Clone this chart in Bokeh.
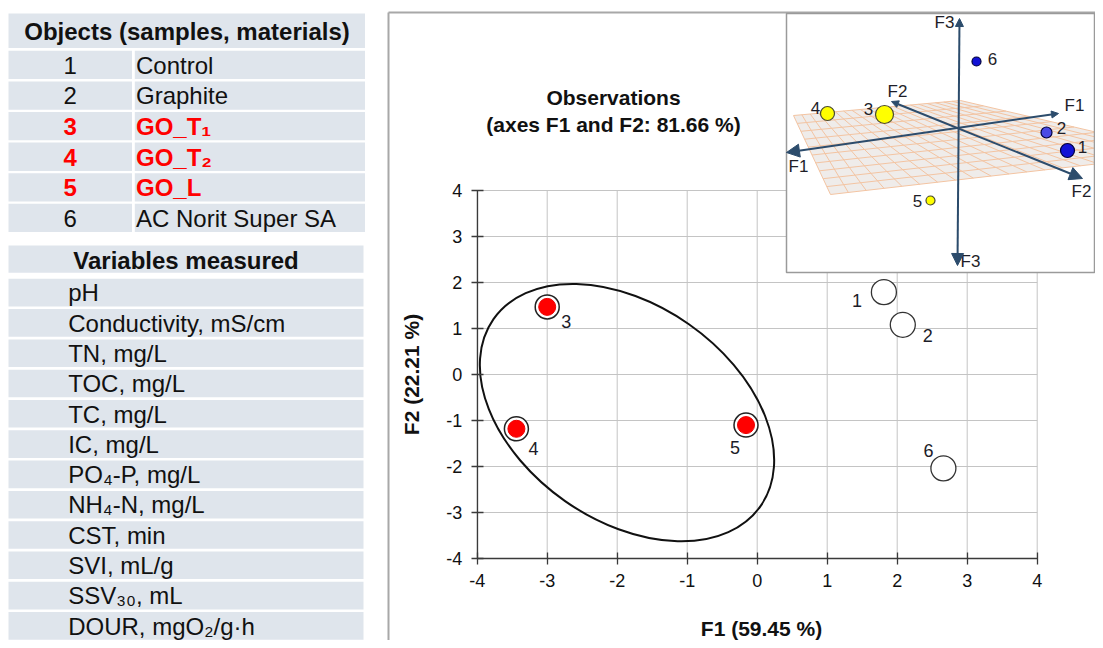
import numpy as np
from bokeh.plotting import figure
from bokeh.models import Range1d, LinearAxis, FixedTicker, Arrow, NormalHead
from bokeh.core.properties import value
from bokeh.embed import file_html
from bokeh.resources import INLINE

# ------------------------------------------------------------------ data
obj_table_title = "Objects (samples, materials)"
obj_ids = ["1", "2", "3", "4", "5", "6"]
obj_names = ["Control", "Graphite", "GO_T\u2081", "GO_T\u2082", "GO_L", "AC Norit Super SA"]
obj_is_go = [False, False, True, True, True, False]

var_table_title = "Variables measured"
variables = ["pH", "Conductivity, mS/cm", "TN, mg/L", "TOC, mg/L", "TC, mg/L", "IC, mg/L",
             "PO\u2084-P, mg/L", "NH\u2084-N, mg/L", "CST, min", "SVI, mL/g",
             "SSV\u2083\u2080, mL", "DOUR, mgO\u2082/g\u00b7h"]

f1_scores = [1.81, 2.08, -3.00, -3.44, -0.16, 2.66]
f2_scores = [1.79, 1.08, 1.47, -1.18, -1.10, -2.04]
axis_ticks = [-4, -3, -2, -1, 0, 1, 2, 3, 4]
plot_title = ["Observations", "(axes F1 and F2: 81.66 %)"]
f1_title = "F1 (59.45 %)"
f2_title = "F2 (22.21 %)"
ellipse_center = [-1.86, -0.83]          # F1, F2 of the GO group ellipse

# 3-D inset: projected positions (px from the axes origin, up = +)
inset_u = [109, 88, -74, -131, -28, 18]
inset_v = [-22, -4, 14, 15, -72, 67]
inset_size = [14, 11, 18, 14, 9, 9]
inset_axis_names = ["F1", "F1", "F2", "F2", "F3", "F3"]

# ------------------------------------------------------------------ styles
FONT = value("Liberation Sans")
CELL = "#dfe5ec"
W, H = 1095, 640
OX, OY = 0, 0                        # canvas origin in picture pixels
PX0, PXU, PY0, PYU = 756.7, 70.0, 374.0, 46.0   # main plot: pixel of 0 and px per unit
IOX, IOY = 958.0, 128.0             # inset axes origin

p = figure(width=W, height=H, x_range=Range1d(OX, OX + W), y_range=Range1d(OY + H, OY),
           x_axis_location=None, y_axis_location=None, toolbar_location=None,
           output_backend="svg", min_border=0, outline_line_color=None,
           background_fill_color="white", border_fill_color="white")
p.grid.visible = False
p.extra_x_ranges = {"fx": Range1d((OX - PX0) / PXU, (OX + W - PX0) / PXU),
                    "ins": Range1d(OX - IOX, OX + W - IOX)}
p.extra_y_ranges = {"fy": Range1d((PY0 - (OY + H)) / PYU, (PY0 - OY) / PYU),
                    "ins": Range1d(IOY - (OY + H), IOY - OY)}
F = dict(x_range_name="fx", y_range_name="fy")
I = dict(x_range_name="ins", y_range_name="ins")

# ------------------------------------------------------------------ tables
def text(x, y, t, size="24px", color="#111111", style="normal", align="left", **kw):
    p.text(x=x, y=y, text=t, text_font=FONT, text_font_size=size, text_color=color,
           text_font_style=style, text_align=align, text_baseline="middle", **kw)

p.quad(left=[8], right=[364.5], top=[13], bottom=[47.5], fill_color=CELL, line_color=None)
text([186.5], [31], [obj_table_title], style="bold", align="center")
tops = [50.3 + 30.6 * i for i in range(len(obj_ids))]
p.quad(left=8, right=131.5, top=tops, bottom=[t + 28.3 for t in tops], fill_color=CELL, line_color=None)
p.quad(left=134.3, right=364.5, top=tops, bottom=[t + 28.3 for t in tops], fill_color=CELL, line_color=None)
for go in (False, True):
    idx = [i for i in range(len(obj_ids)) if obj_is_go[i] == go]
    ys = [tops[i] + 14.5 for i in idx]
    col = "#ff0000" if go else "#111111"
    sty = "bold" if go else "normal"
    text([69.7] * len(idx), ys, [obj_ids[i] for i in idx], color=col, style=sty, align="center")
    text([135.5] * len(idx), ys, [obj_names[i] for i in idx], color=col, style=sty)

p.quad(left=[8], right=[363], top=[245], bottom=[272.3], fill_color=CELL, line_color=None)
text([185.5], [259.5], [var_table_title], style="bold", align="center")
vtops = [278.3 + 30.3 * i for i in range(len(variables))]
p.quad(left=8, right=363, top=vtops, bottom=[t + 27.6 for t in vtops], fill_color=CELL, line_color=None)
text([67.7] * len(variables), [t + 14.0 for t in vtops], variables)

# ------------------------------------------------------------------ right panel frame
p.segment(x0=[388, 388], y0=[OY + H, 12], x1=[388, OX + W], y1=[12, 12],
          line_color="#a8a8a8", line_width=2)

# ------------------------------------------------------------------ scatter plot
lo, hi = axis_ticks[0], axis_ticks[-1]
n = len(axis_ticks)
p.segment(x0=axis_ticks, y0=[lo] * n, x1=axis_ticks, y1=[hi] * n, line_color="#c4c4c4", line_width=1, **F)
p.segment(x0=[lo] * n, y0=axis_ticks, x1=[hi] * n, y1=axis_ticks, line_color="#c4c4c4", line_width=1, **F)

xa = LinearAxis(fixed_location=lo, bounds=(lo, hi), ticker=FixedTicker(ticks=axis_ticks), **F)
ya = LinearAxis(fixed_location=lo, bounds=(lo, hi), ticker=FixedTicker(ticks=axis_ticks), **F)
for ax in (xa, ya):
    ax.axis_line_color = "#3a3a3a"
    ax.axis_line_width = 1.3
    ax.major_tick_line_color = "#3a3a3a"
    ax.major_tick_line_width = 1.3
    ax.major_tick_in = 6
    ax.major_tick_out = 6
    ax.minor_tick_line_color = None
    ax.major_label_text_font = "Liberation Sans"
    ax.major_label_text_font_size = "18px"
    ax.major_label_text_color = "#111111"
    ax.major_label_overrides = {t: str(t) for t in axis_ticks}
xa.major_label_standoff = 9
ya.major_label_standoff = 9
p.add_layout(xa, "below")
p.add_layout(ya, "left")

p.ellipse(x=[ellipse_center[0]], y=[ellipse_center[1]], width=326, height=216, angle=-35,
          angle_units="deg", width_units="screen", height_units="screen",
          fill_color=None, line_color="#111111", line_width=2, **F)

plain = [i for i in range(6) if not obj_is_go[i]]
go = [i for i in range(6) if obj_is_go[i]]
p.scatter(x=[f1_scores[i] for i in plain], y=[f2_scores[i] for i in plain], size=25,
          fill_color="white", line_color="#333333", line_width=1.3, **F)
p.scatter(x=[f1_scores[i] for i in go], y=[f2_scores[i] for i in go], size=24,
          fill_color="white", line_color="#222222", line_width=1.5, **F)
p.scatter(x=[f1_scores[i] for i in go], y=[f2_scores[i] for i in go], size=17,
          fill_color="#ff0000", line_color="#ee0000", line_width=1, **F)
p.text(x=f1_scores, y=f2_scores, text=obj_ids, x_offset=[-27, 25, 19, 17, -11, -15],
       y_offset=[8, 11, 15, 20, 22, -18], text_font=FONT, text_font_size="18px",
       text_color="#1c1c28", text_align="center", text_baseline="middle", **F)

text([613, 613], [97, 124], plot_title, size="21px", style="bold", align="center")
text([761], [628], [f1_title], size="21px", style="bold", align="center")
text([411], [374], [f2_title], size="21px", style="bold", align="center", angle=np.pi / 2)

# ------------------------------------------------------------------ 3-D inset
p.quad(left=[786], right=[1094], top=[13], bottom=[272], fill_color="white", line_color=None)
c00, c10, c11, c01 = np.array([-165, 13]), np.array([2, 28]), np.array([229, -25]), np.array([-128, -66])
p.patch(x=[c00[0], c10[0], c11[0], c01[0]], y=[c00[1], c10[1], c11[1], c01[1]],
        fill_color="#efecea", line_color=None, **I)

def bil(s, t):
    return (1 - s) * (1 - t) * c00 + s * (1 - t) * c10 + s * t * c11 + (1 - s) * t * c01

gx, gy = [], []
for s in np.linspace(0, 1, 21):
    a, b = bil(s, 0), bil(s, 1)
    gx.append([a[0], b[0]]); gy.append([a[1], b[1]])
for t in np.linspace(0, 1, 11):
    a, b = bil(0, t), bil(1, t)
    gx.append([a[0], b[0]]); gy.append([a[1], b[1]])
p.multi_line(xs=gx, ys=gy, line_color="#f3c4a2", line_width=1, **I)

AX = "#2c4c6c"
inset_axes = [((-172, -24), (100, 15), 13, 7), ((-67, 27), (124, -50), 7, 13), ((-1, -137), (1, 110), 12, 8)]
for (x0, y0), (x1, y1), s0, s1 in inset_axes:
    p.add_layout(Arrow(x_start=x0, y_start=y0, x_end=x1, y_end=y1, line_color=AX, line_width=2,
                       start=NormalHead(size=s0, fill_color=AX, line_color=AX),
                       end=NormalHead(size=s1, fill_color=AX, line_color=AX), **I))
text([798, 1074, 897, 1081, 944, 970], [166, 105, 91, 191, 22, 261], inset_axis_names,
     size="17px", color="#1e1e28", align="center")

inset_colors = ["#1212d6" if not g else "#ffff00" for g in obj_is_go]
inset_colors[1] = "#4a4ae6"
inset_lines = ["#00003c" if not g else "#4a4a30" for g in obj_is_go]
p.scatter(x=inset_u, y=inset_v, size=inset_size, fill_color=inset_colors, line_color=inset_lines,
          line_width=1.2, **I)
p.text(x=inset_u, y=inset_v, text=obj_ids, x_offset=[15, 15, -16, -12, -13, 16],
       y_offset=[-4, -5, -6, -6, 0, -3], text_font=FONT, text_font_size="17px",
       text_color="#1e1e28", text_align="center", text_baseline="middle", **I)
p.quad(left=[786], right=[1094], top=[13], bottom=[272], fill_color=None,
       line_color="#9a9a9a", line_width=1.5)

open("out.html", "w").write(file_html(p, INLINE))
